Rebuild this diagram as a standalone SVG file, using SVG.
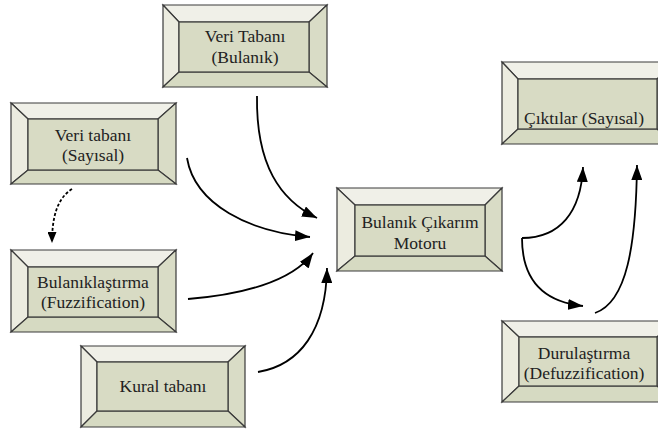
<svg xmlns="http://www.w3.org/2000/svg" width="658" height="431" viewBox="0 0 658 431">
<defs>
<marker id="ah" markerUnits="userSpaceOnUse" markerWidth="16" markerHeight="11" refX="15" refY="5.5" orient="auto"><path d="M0,0 L15,5.5 L0,11 z" fill="#000"/></marker>
<marker id="ahs" markerUnits="userSpaceOnUse" markerWidth="12" markerHeight="9" refX="11" refY="4.5" orient="auto"><path d="M0,0 L11,4.5 L0,9 z" fill="#000"/></marker>
</defs>
<style>
.bv polygon,.bv rect{stroke:#3a3a3a;stroke-width:1.2;stroke-linejoin:miter}
.t{fill:#f0f0e8}.l{fill:#ecece0}.r{fill:#d9dcc6}.b{fill:#d6dac2}.f{fill:#d8dbc4}
.c path{fill:none;stroke:#000;stroke-width:1.8}
</style>
<rect width="658" height="431" fill="#fff"/>

<g font-family="'Liberation Serif', 'Times New Roman', 'DejaVu Serif', serif" font-size="17.5" fill="#222" text-anchor="middle">

<g id="veri-tabani-bulanik" class="bv">
<polygon class="t" points="163,5 327,5 309,22 179,22"/>
<polygon class="l" points="163,5 179,22 179,72 163,87"/>
<polygon class="r" points="327,5 327,87 309,72 309,22"/>
<polygon class="b" points="163,87 179,72 309,72 327,87"/>
<rect class="f" x="179" y="22" width="130" height="50"/>
<text x="245" y="42" fill="#222">Veri Tabanı</text>
<text x="245" y="63" fill="#222">(Bulanık)</text>
</g>

<g id="veri-tabani-sayisal" class="bv">
<polygon class="t" points="11,103 176,103 158,119 28,119"/>
<polygon class="l" points="11,103 28,119 28,170 11,184"/>
<polygon class="r" points="176,103 176,184 158,170 158,119"/>
<polygon class="b" points="11,184 28,170 158,170 176,184"/>
<rect class="f" x="28" y="119" width="130" height="51"/>
<text x="93" y="141" fill="#222">Veri tabanı</text>
<text x="93" y="161" fill="#222">(Sayısal)</text>
</g>

<g id="bulaniklastirma" class="bv">
<polygon class="t" points="11,250 176,250 158,267 28,267"/>
<polygon class="l" points="11,250 28,267 28,317 11,332"/>
<polygon class="r" points="176,250 176,332 158,317 158,267"/>
<polygon class="b" points="11,332 28,317 158,317 176,332"/>
<rect class="f" x="28" y="267" width="130" height="50"/>
<text x="93" y="288" fill="#222">Bulanıklaştırma</text>
<text x="93" y="308" fill="#222">(Fuzzification)</text>
</g>

<g id="kural-tabani" class="bv">
<polygon class="t" points="81,346 245,346 228,362 97,362"/>
<polygon class="l" points="81,346 97,362 97,411 81,427"/>
<polygon class="r" points="245,346 245,427 228,411 228,362"/>
<polygon class="b" points="81,427 97,411 228,411 245,427"/>
<rect class="f" x="97" y="362" width="131" height="49"/>
<text x="163" y="392" fill="#222">Kural tabanı</text>
</g>

<g id="bulanik-cikarim-motoru" class="bv">
<polygon class="t" points="337,188 502,188 485,205 355,205"/>
<polygon class="l" points="337,188 355,205 355,256 337,271"/>
<polygon class="r" points="502,188 502,271 485,256 485,205"/>
<polygon class="b" points="337,271 355,256 485,256 502,271"/>
<rect class="f" x="355" y="205" width="130" height="51"/>
<text x="420" y="228" fill="#222">Bulanık Çıkarım</text>
<text x="420" y="249" fill="#222">Motoru</text>
</g>

<g id="ciktilar-sayisal" class="bv">
<polygon class="t" points="502,62 674,62 657,79 518,79"/>
<polygon class="l" points="502,62 518,79 518,129 502,144"/>
<polygon class="r" points="674,62 674,144 657,129 657,79"/>
<polygon class="b" points="502,144 518,129 657,129 674,144"/>
<rect class="f" x="518" y="79" width="139" height="50"/>
<text x="584" y="124" fill="#222">Çıktılar (Sayısal)</text>
</g>

<g id="durulastirma" class="bv">
<polygon class="t" points="502,321 674,321 657,337 519,337"/>
<polygon class="l" points="502,321 519,337 519,386 502,402"/>
<polygon class="r" points="674,321 674,402 657,386 657,337"/>
<polygon class="b" points="502,402 519,386 657,386 674,402"/>
<rect class="f" x="519" y="337" width="138" height="49"/>
<text x="584" y="359" fill="#222">Durulaştırma</text>
<text x="584" y="379" fill="#222">(Defuzzification)</text>
</g>

</g>

<g id="connectors" class="c">
<path d="M257,96 C256,165 280,200 317,218" marker-end="url(#ah)"/>
<path d="M187,158 C195,205 250,232 310,237" marker-end="url(#ah)"/>
<path d="M188,299 C240,295 292,282 313,253" marker-end="url(#ah)"/>
<path d="M258,372 C300,365 326,330 327,268" marker-end="url(#ah)"/>
<path d="M522,238 C560,238 581,212 583,167" marker-end="url(#ah)"/>
<path d="M522,238 C522,282 545,302 583,306" marker-end="url(#ah)"/>
<path d="M595,313 C627,302 636,245 637,165" marker-end="url(#ah)"/>
<path d="M72,189 C58,198 52,215 52,243" stroke-dasharray="3,2" stroke-width="1.2" marker-end="url(#ahs)"/>
</g>
</svg>
